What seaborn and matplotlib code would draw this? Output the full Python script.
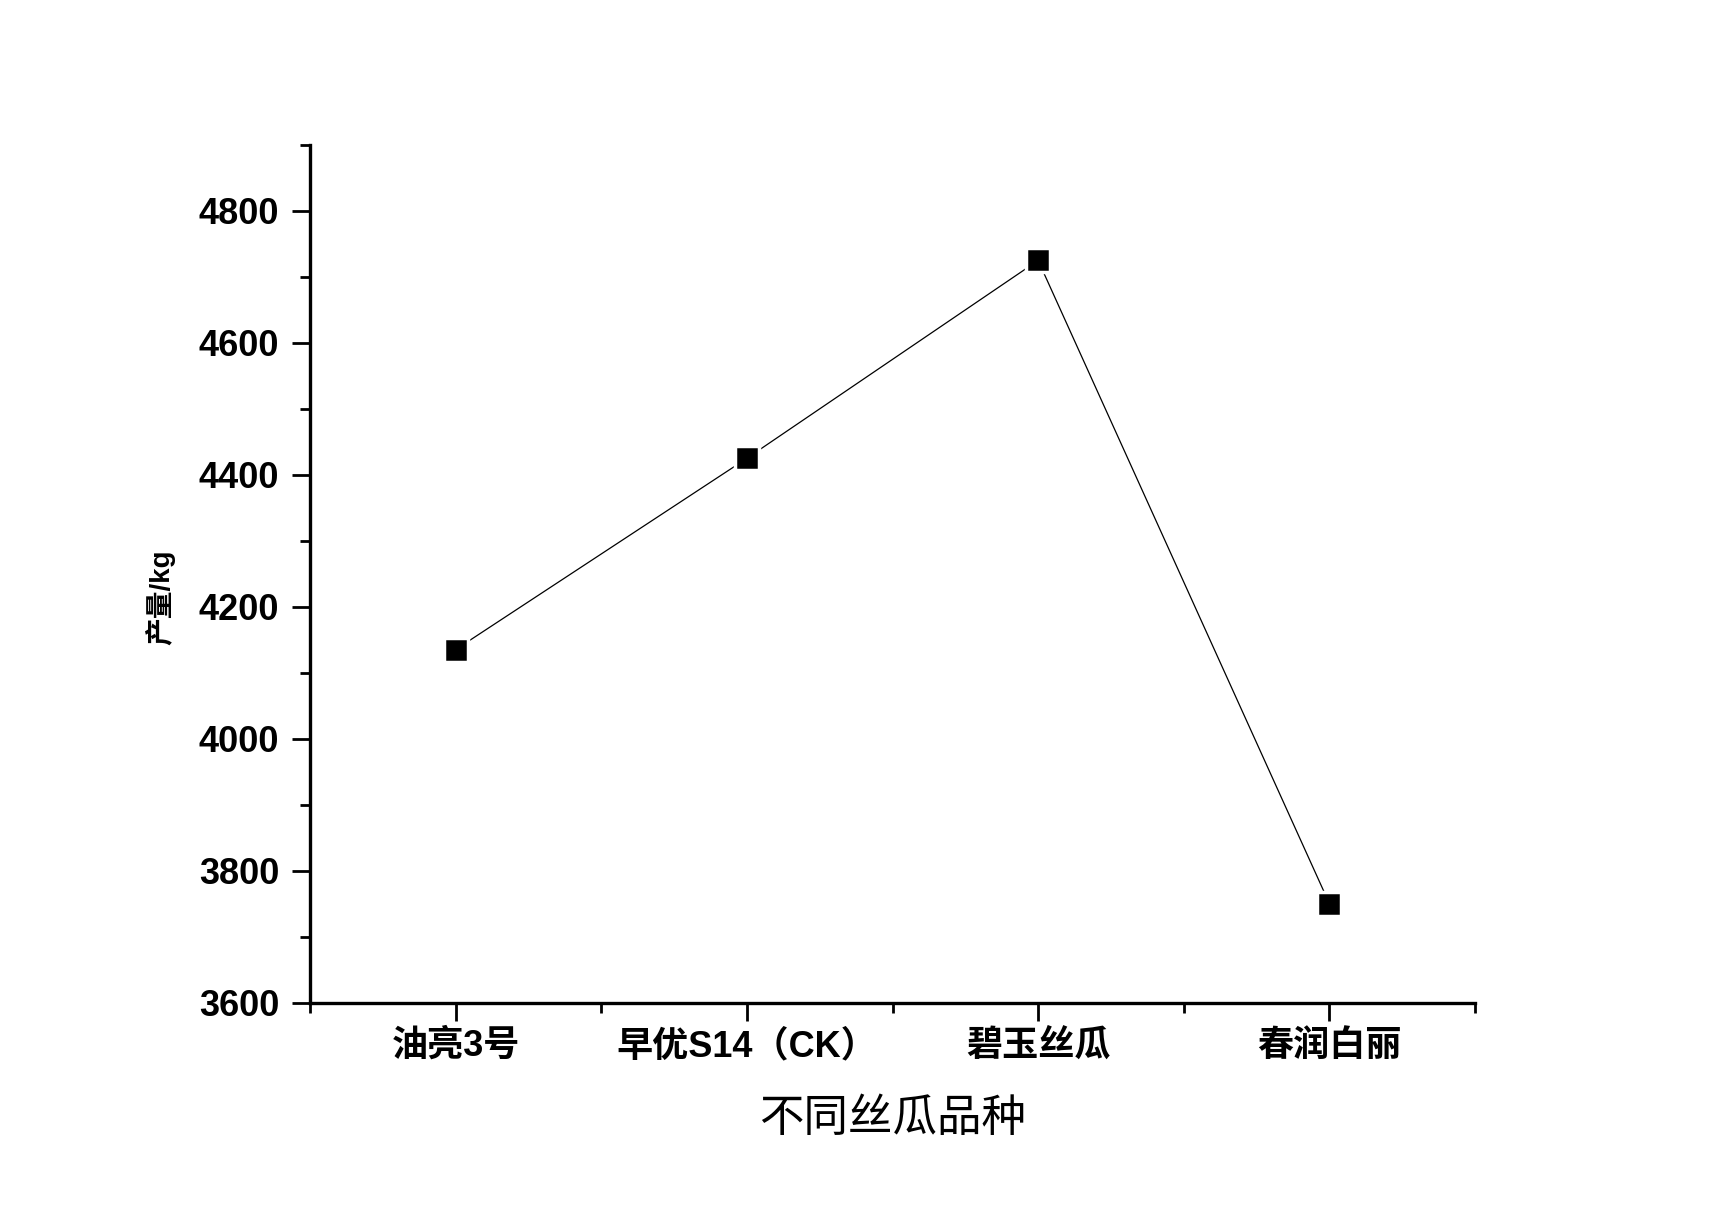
import matplotlib
matplotlib.use("Agg")
import matplotlib.pyplot as plt
import seaborn as sns
import pandas as pd
from matplotlib.ticker import FixedLocator

categories = ["油亮3号", "早优S14（CK）", "碧玉丝瓜", "春润白丽"]
yield_kg = [4135, 4425, 4725, 3750]
y_major_ticks = [3600, 3800, 4000, 4200, 4400, 4600, 4800]
y_minor_ticks = [3700, 3900, 4100, 4300, 4500, 4700, 4900]
x_label = "不同丝瓜品种"
y_label = "产量/kg"

sns.set_style("ticks")
plt.rcParams["font.family"] = ["Liberation Sans", "Noto Sans CJK SC", "DejaVu Sans"]
plt.rcParams["text.color"] = "black"
plt.rcParams["axes.labelcolor"] = "black"
plt.rcParams["xtick.color"] = "black"
plt.rcParams["ytick.color"] = "black"
plt.rcParams["axes.edgecolor"] = "black"

df = pd.DataFrame({"品种": categories, "产量": yield_kg})

fig = plt.figure(figsize=(17.26, 12.13), dpi=100)
ax = fig.add_axes([0.17961, 0.17353, 0.67497, 0.70693])

sns.lineplot(data=df, x="品种", y="产量", ax=ax, sort=False, color="black",
             linewidth=0.9, marker="s", markersize=17.5, markerfacecolor="black",
             markeredgecolor="white", markeredgewidth=2.5)

ax.set_xlim(-0.5, 3.5)
ax.set_ylim(3600, 4900)
ax.set_xticks(range(len(categories)))
ax.set_xticklabels(categories)
ax.xaxis.set_minor_locator(FixedLocator([-0.5, 0.5, 1.5, 2.5, 3.5]))
ax.set_yticks(y_major_ticks)
ax.yaxis.set_minor_locator(FixedLocator(y_minor_ticks))

for s in ["top", "right"]:
    ax.spines[s].set_visible(False)
for s in ["left", "bottom"]:
    ax.spines[s].set_linewidth(2.4)
    ax.spines[s].set_color("black")

ax.tick_params(axis="both", which="major", direction="out", length=13, width=2.0,
               color="black", labelcolor="black", labelsize=26)
ax.tick_params(axis="both", which="minor", direction="out", length=7, width=2.0,
               color="black")
ax.tick_params(axis="y", which="major", pad=9)
ax.tick_params(axis="x", which="major", pad=6)
for lab in ax.get_xticklabels() + ax.get_yticklabels():
    lab.set_fontweight("bold")
    lab.set_color("black")
    lab.set_family(["Liberation Sans", "Noto Sans CJK SC"])

ax.set_xlabel(x_label, fontsize=32, family=["Noto Sans CJK SC"], fontweight="normal",
              color="black")
ax.xaxis.set_label_coords(0.5, -0.135)
ax.xaxis.label.set_va("center")
ax.set_ylabel(y_label, fontsize=20, fontweight="bold", color="black",
              family=["Liberation Sans", "Noto Sans CJK SC"])
ax.yaxis.set_label_coords(-0.116, 0.4726)

ax.grid(False)
fig.savefig("out.png", dpi=100, facecolor="white")
